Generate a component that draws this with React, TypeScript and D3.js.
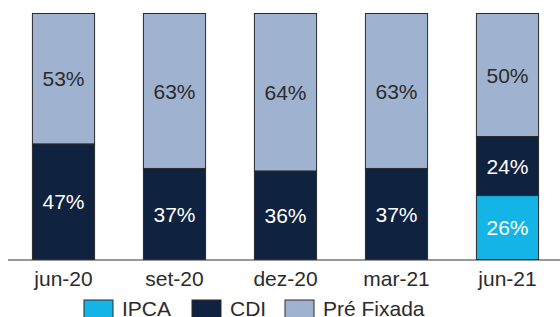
import * as d3 from 'd3'
import { useEffect, useRef } from 'react'

const periods = ['jun-20', 'set-20', 'dez-20', 'mar-21', 'jun-21']
const seriesNames = ['IPCA', 'CDI', 'Pré Fixada']
const ipca = [0, 0, 0, 0, 26]
const cdi = [47, 37, 36, 37, 24]
const pre = [53, 63, 64, 63, 50]
const colors = ['#14b4e6', '#0f2340', '#9fb2d0']
const labelColors = ['#ffffff', '#ffffff', '#2b2b2b']

const width = 560
const height = 317

export default function App() {
    const svgRef = useRef<SVGSVGElement>(null)

    useEffect(() => {
        if (!svgRef.current) return
        const svg = d3.select(svgRef.current)
        svg.selectAll('*').remove()

        const rows = periods.map((p, i) => ({
            period: p,
            IPCA: ipca[i],
            CDI: cdi[i],
            'Pré Fixada': pre[i],
        }))
        const stacked = d3.stack<any>().keys(seriesNames)(rows)

        const x = d3
            .scaleBand()
            .domain(periods)
            .range([8, 563])
            .paddingInner(0.44)
            .paddingOuter(0.22)
        const y = d3.scaleLinear().domain([0, 100]).range([259.5, 13.5])

        stacked.forEach((layer, si) => {
            const g = svg.append('g')
            layer.forEach((d, i) => {
                const v = d[1] - d[0]
                if (v <= 0) return
                const x0 = x(periods[i]) as number
                g.append('rect')
                    .attr('x', x0)
                    .attr('y', y(d[1]))
                    .attr('width', x.bandwidth())
                    .attr('height', y(d[0]) - y(d[1]))
                    .attr('fill', colors[si])
                    .attr('stroke', '#2a2a2a')
                    .attr('stroke-width', 1)
                g.append('text')
                    .attr('x', x0 + x.bandwidth() / 2)
                    .attr('y', (y(d[0]) + y(d[1])) / 2)
                    .attr('dy', '0.36em')
                    .attr('text-anchor', 'middle')
                    .attr('fill', labelColors[si])
                    .style('font-family', 'Liberation Sans, Arial, sans-serif')
                    .style('font-size', '21px')
                    .text(`${v}%`)
            })
        })

        // axis line
        svg.append('line')
            .attr('x1', 8)
            .attr('x2', 560)
            .attr('y1', 260)
            .attr('y2', 260)
            .attr('stroke', '#333')
            .attr('stroke-width', 1.2)

        periods.forEach((p) => {
            svg.append('text')
                .attr('x', (x(p) as number) + x.bandwidth() / 2)
                .attr('y', 286)
                .attr('text-anchor', 'middle')
                .attr('fill', '#2b2b2b')
                .style('font-family', 'Liberation Sans, Arial, sans-serif')
                .style('font-size', '21px')
                .text(p)
        })

        // legend
        const legendX = [84, 192, 285]
        seriesNames.forEach((name, i) => {
            svg.append('rect')
                .attr('x', legendX[i])
                .attr('y', 300)
                .attr('width', 29)
                .attr('height', 29)
                .attr('fill', colors[i])
                .attr('stroke', '#2a2a2a')
                .attr('stroke-width', 1)
            svg.append('text')
                .attr('x', legendX[i] + 38)
                .attr('y', 316)
                .attr('fill', '#2b2b2b')
                .style('font-family', 'Liberation Sans, Arial, sans-serif')
                .style('font-size', '21px')
                .text(name)
        })
    }, [])

    return (
        <svg
            ref={svgRef}
            width={width}
            height={height}
            style={{ position: 'absolute', left: 0, top: 0, background: '#fff' }}
        />
    )
}
